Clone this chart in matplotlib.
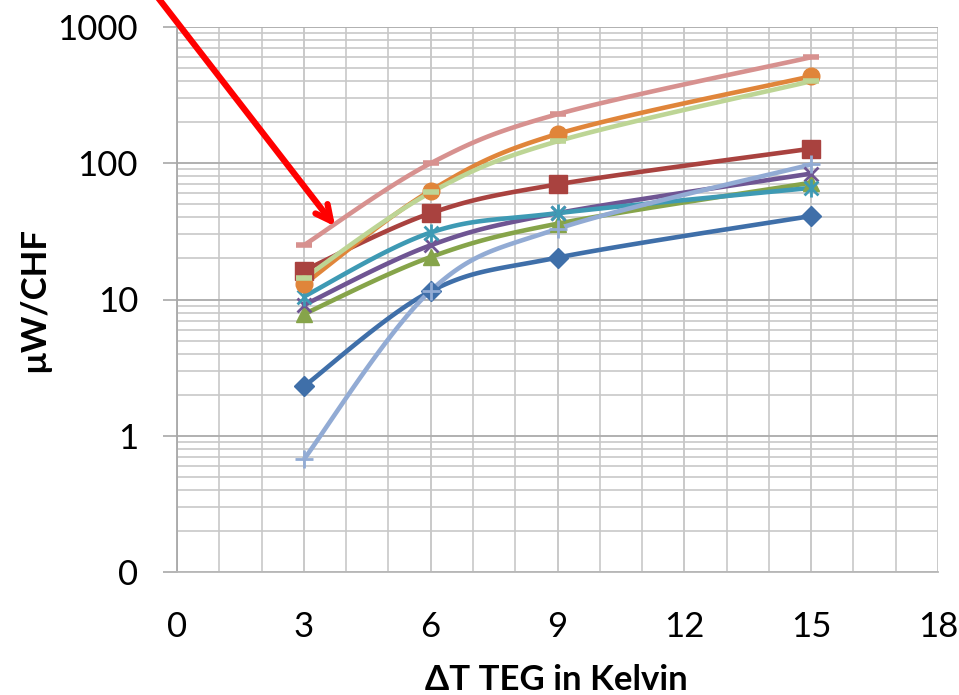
import numpy as np
import matplotlib
matplotlib.use("Agg")
import matplotlib.pyplot as plt
from matplotlib.path import Path
from matplotlib.ticker import FixedLocator, FuncFormatter, LogLocator, NullFormatter

plt.rcParams['font.family'] = ['Lato', 'DejaVu Sans']

# ---- data ----
x_vals = [3, 6, 9, 15]
s_blue = [2.3, 11.5, 20.3, 41]
s_red = [16.3, 43, 70, 128]
s_green = [7.8, 20.5, 36, 72]
s_purple = [9.1, 25, 43, 84]
s_teal = [10.5, 31, 43, 66]
s_orange = [12.9, 63, 164, 435]
s_lightblue = [0.67, 11.6, 33, 98]
s_pink = [25, 100, 229, 600]
s_lightgreen = [14.3, 61, 145, 400]

x_ticks = [0, 3, 6, 9, 12, 15, 18]
y_ticks = [0.1, 1, 10, 100, 1000]
y_tick_labels = ["0", "1", "10", "100", "1000"]

# asterisk marker (x + vertical bar) like Excel's "star"
star_path = Path(
    [(-1, -1), (1, 1), (-1, 1), (1, -1), (0, -1.3), (0, 1.3)],
    [Path.MOVETO, Path.LINETO, Path.MOVETO, Path.LINETO, Path.MOVETO, Path.LINETO])

series = [
    (s_blue, '#3F6FA9', 'D', 10, True),
    (s_red, '#A9423F', 's', 13, True),
    (s_green, '#86A44A', '^', 12, True),
    (s_purple, '#6F5593', 'x', 10, False),
    (s_teal, '#3E9AB4', star_path, 13, False),
    (s_orange, '#E0853A', 'o', 12, True),
    (s_lightblue, '#92ABD4', '+', 13, False),
    (s_pink, '#D7918F', '_', 12, False),
    (s_lightgreen, '#BDD595', '_', 12, False),
]


def smooth(xs, ys, n=40):
    """Excel-style smoothed line (Catmull-Rom / Bezier) in (x, log10 y) space."""
    P = np.column_stack([np.asarray(xs, float), np.log10(np.asarray(ys, float))])
    m = len(P)
    out = []
    t = np.linspace(0, 1, n)
    for i in range(m - 1):
        p0 = P[i]
        p3 = P[i + 1]
        pm = P[i - 1] if i > 0 else P[i]
        pp = P[i + 2] if i + 2 < m else P[i + 1]
        c1 = p0 + (p3 - pm) / 6.0
        c2 = p3 - (pp - p0) / 6.0
        seg = ((1 - t)[:, None] ** 3 * p0 + 3 * (1 - t)[:, None] ** 2 * t[:, None] * c1
               + 3 * (1 - t)[:, None] * t[:, None] ** 2 * c2 + t[:, None] ** 3 * p3)
        out.append(seg if i == 0 else seg[1:])
    S = np.vstack(out)
    return S[:, 0], 10 ** S[:, 1]


fig = plt.figure(figsize=(9.59, 6.95), dpi=100)
ax = fig.add_axes([177 / 959, 1 - 572 / 695, (938 - 177) / 959, (572 - 27) / 695])

ax.set_yscale('log')
ax.set_xlim(0, 18)
ax.set_ylim(0.1, 1000)

# grid
ax.xaxis.set_major_locator(FixedLocator(x_ticks))
ax.xaxis.set_minor_locator(FixedLocator(list(range(0, 19))))
ax.yaxis.set_major_locator(FixedLocator(y_ticks))
ax.yaxis.set_minor_locator(LogLocator(base=10, subs=np.arange(2, 10)))
ax.yaxis.set_minor_formatter(NullFormatter())
ax.yaxis.set_major_formatter(FuncFormatter(lambda v, p: y_tick_labels[y_ticks.index(v)] if v in y_ticks else ""))

ax.grid(True, which='minor', axis='both', color='#C8C8C8', lw=1.2)
ax.grid(True, which='major', axis='y', color='#B0B0B0', lw=1.4)
ax.grid(True, which='major', axis='x', color='#C0C0C0', lw=1.2)
ax.set_axisbelow(True)

for sp in ['top', 'right']:
    ax.spines[sp].set_visible(False)
ax.spines['left'].set_color('#A8A8A8')
ax.spines['bottom'].set_color('#B8B8B8')
ax.spines['left'].set_linewidth(1.3)
ax.spines['bottom'].set_linewidth(1.3)

ax.tick_params(axis='y', which='major', length=10, width=1.2, color='#A8A8A8', pad=18, labelsize=25)
ax.tick_params(axis='y', which='minor', length=0)
ax.tick_params(axis='x', which='both', length=0, pad=28, labelsize=25)

for ys, col, mk, ms, filled in series:
    sx, sy = smooth(x_vals, ys)
    ax.plot(sx, sy, color=col, lw=3.3, solid_capstyle='butt', zorder=3)
    if filled:
        ax.plot(x_vals, ys, ls='none', marker=mk, ms=ms, color=col, mec=col, zorder=4)
    else:
        ax.plot(x_vals, ys, ls='none', marker=mk, ms=ms, color=col, mec=col, mew=2.0 if mk != '_' else 4, zorder=4)

ax.set_xlabel('ΔT TEG in Kelvin', fontsize=25, fontweight='bold')
ax.set_ylabel('µW/CHF', fontsize=25, fontweight='bold')
ax.xaxis.label.set_va('baseline')
ax.yaxis.label.set_va('center')
ax.xaxis.set_label_coords(0.498, (572 - 690) / 545)
ax.yaxis.set_label_coords((34 - 177) / 761, (572 - 300) / 545)

# red arrow
ax.annotate('', xy=(3.74, 34.4), xytext=(-0.59, 1869), xycoords='data', textcoords='data',
            annotation_clip=False,
            arrowprops=dict(arrowstyle='->,head_length=1.1,head_width=0.55', color='#FF0000',
                            lw=4.5, shrinkA=0, shrinkB=0), zorder=6)

fig.savefig('out.png', dpi=100)
